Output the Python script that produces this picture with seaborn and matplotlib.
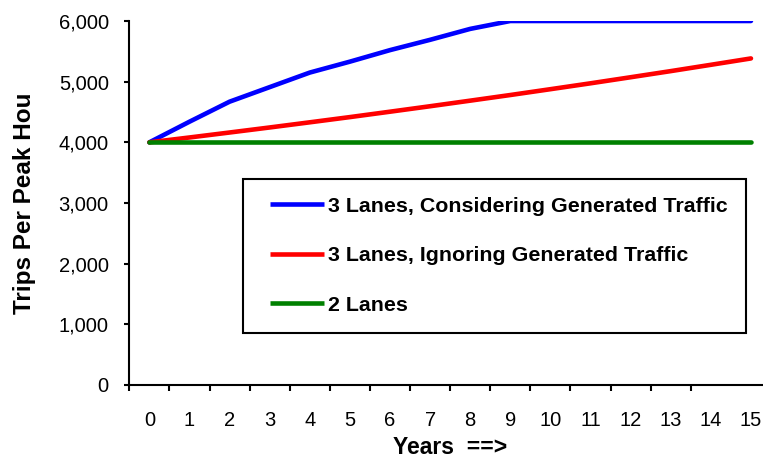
import matplotlib
matplotlib.use("Agg")
import matplotlib.pyplot as plt
import matplotlib.ticker as mticker
from matplotlib.lines import Line2D
from matplotlib.legend_handler import HandlerLine2D
import seaborn as sns
import pandas as pd

years = list(range(16))
considering = [4000, 4340, 4670, 4910, 5150, 5330, 5520, 5690, 5870, 6000,
               6000, 6000, 6000, 6000, 6000, 6000]
ignoring = [4000, 4080, 4162, 4245, 4330, 4416, 4505, 4595, 4687, 4780,
            4876, 4973, 5073, 5174, 5278, 5383]
two_lanes = [4000] * 16
series_names = ["3 Lanes, Considering Generated Traffic",
                "3 Lanes, Ignoring Generated Traffic",
                "2 Lanes"]
colors = ["#0000FF", "#FF0000", "#008000"]
y_ticks = [0, 1000, 2000, 3000, 4000, 5000, 6000]

rows = []
for name, vals in zip(series_names, [considering, ignoring, two_lanes]):
    for x, v in zip(years, vals):
        rows.append({"Year": x, "Trips": v, "Series": name})
df = pd.DataFrame(rows)

sns.set_style("ticks")
plt.rcParams["font.family"] = ["Liberation Sans", "DejaVu Sans"]
plt.rcParams["text.color"] = "black"
plt.rcParams["axes.labelcolor"] = "black"
plt.rcParams["xtick.color"] = "black"
plt.rcParams["ytick.color"] = "black"

fig = plt.figure(figsize=(7.63, 4.58), dpi=100)
ax = fig.add_axes([128.5 / 763, 73 / 458, (763 - 128.5) / 763, 364 / 458])

sns.lineplot(data=df, x="Year", y="Trips", hue="Series", hue_order=series_names,
             palette=colors, linewidth=3.3, ax=ax, legend=True)

ax.set_xlim(-0.52, 15.3)
ax.set_ylim(0, 6000)
ax.set_yticks(y_ticks)
ax.yaxis.set_major_formatter(mticker.FuncFormatter(lambda v, p: f"{int(v):,}"))
ax.set_xticks(years)
ax.set_xticklabels([str(y) for y in years])
ax.set_xticks([y - 0.5 for y in years[:-1]], minor=True)

for s in ["top", "right"]:
    ax.spines[s].set_visible(False)
for s in ["left", "bottom"]:
    ax.spines[s].set_linewidth(1.5)
    ax.spines[s].set_color("black")

ax.tick_params(axis="x", which="major", length=0, pad=18.5, labelsize=14.5,
               labelcolor="black")
ax.tick_params(axis="x", which="minor", length=4.3, width=1.5, direction="out", color="black")
ax.tick_params(axis="y", which="major", length=3.6, width=1.5, pad=10.6, labelsize=14.5,
               color="black", labelcolor="black")

ax.set_ylabel("Trips Per Peak Hou", fontsize=17.5, fontweight="bold", color="black")
ax.yaxis.set_label_coords(-0.145, 0.5)
ax.set_xlabel("Years  ==>", fontsize=16.5, fontweight="bold", color="black")
ax.xaxis.set_label_coords(0.5075, -0.139)

handles, labels = ax.get_legend_handles_labels()
leg = ax.legend(handles, labels, loc="upper left", bbox_to_anchor=(0.18, 0.567),
                borderaxespad=0, frameon=True, fancybox=False, framealpha=1,
                edgecolor="black", labelcolor="black",
                prop={"family": "Liberation Sans", "weight": "bold", "size": 15.4},
                handlelength=2.94, handletextpad=0.21, labelspacing=1.43, borderpad=0.85,
                handler_map={Line2D: HandlerLine2D(xpad=0.44)})
leg.get_frame().set_linewidth(1.5)
for line in leg.get_lines():
    line.set_linewidth(3.3)
    line.set_solid_capstyle("butt")

ax.grid(False)
fig.savefig("out.png", dpi=100)
